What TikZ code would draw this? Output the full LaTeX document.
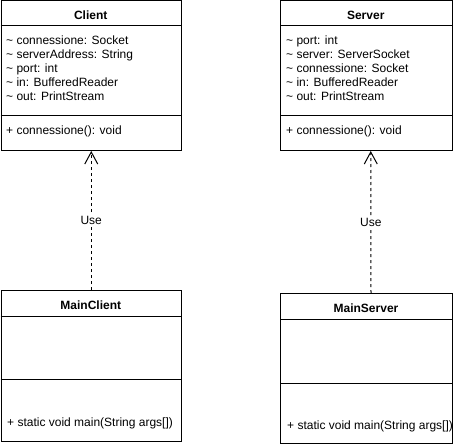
\documentclass[tikz,border=0pt]{standalone}
\usepackage{fontspec}
\setmainfont{Liberation Sans}
\usetikzlibrary{arrows.meta}

\begin{document}
\begin{tikzpicture}[x=1pt,y=-1pt,
	classbox/.style={
		rectangle,
		draw,
		line width=1pt,
		inner sep=0pt,
		anchor=north west},
	classtitle/.style={
		inner sep=0pt,
		font=\fontsize{12}{14}\selectfont\bfseries},
	members/.style={
		inner sep=0pt,
		anchor=north west,
		align=left,
		font=\fontsize{12}{14}\selectfont},
	method/.style={
		inner sep=0pt,
		anchor=base west,
		font=\fontsize{12}{14}\selectfont},
	divider/.style={
		draw,
		line width=1pt},
	line/.style={
		draw,
		line width=1pt,
		dash pattern=on 3pt off 3pt,
		-{Straight Barb[length=12pt,width=13pt]}},
	uselabel/.style={
		fill=white,
		inner sep=1.5pt,
		font=\fontsize{12}{14}\selectfont}]

    \useasboundingbox (0,0) rectangle (461,444);

    % Client
    \node [classbox, minimum width=180.5pt, minimum height=149.5pt] (client) at (0.5,0.5) {};
    \node [classtitle] (clienttitle) at (90.75,15) {Client};
    \draw [divider] (0.5,26) -- (181,26);
    \node [members] (clientattr) at (6,35.2) {\~{} connessione: Socket\\\~{} serverAddress: String\\\~{} port: int\\\~{} in: BufferedReader\\\~{} out: PrintStream};
    \draw [divider] (0.5,116) -- (181,116);
    \node [method] (clientop) at (6,135) {+ connessione(): void};

    % Server
    \node [classbox, minimum width=171.5pt, minimum height=149.5pt] (server) at (280,0.5) {};
    \node [classtitle] (servertitle) at (365.75,15) {Server};
    \draw [divider] (280,26) -- (451.5,26);
    \node [members] (serverattr) at (286,35.2) {\~{} port: int\\\~{} server: ServerSocket\\\~{} connessione: Socket\\\~{} in: BufferedReader\\\~{} out: PrintStream};
    \draw [divider] (280,116) -- (451.5,116);
    \node [method] (serverop) at (286,135) {+ connessione(): void};

    % MainClient
    \node [classbox, minimum width=180.5pt, minimum height=151pt] (mainclient) at (0.5,290) {};
    \node [classtitle] (mainclienttitle) at (90.75,305) {MainClient};
    \draw [divider] (0.5,316) -- (181,316);
    \draw [divider] (0.5,379) -- (181,379);
    \node [method] (mainclientop) at (7,426.5) {+ static void main(String args[])};

    % MainServer
    \node [classbox, minimum width=172pt, minimum height=150pt] (mainserver) at (280,293) {};
    \node [classtitle] (mainservertitle) at (366,308) {MainServer};
    \draw [divider] (280,319) -- (452,319);
    \draw [divider] (280,383) -- (452,383);
    \node [method] (mainserverop) at (287,429) {+ static void main(String args[])};

    % Draw edges
    \path [line] (mainclient) -- node[uselabel] {Use} (client);
    \path [line] ([xshift=4.5pt]mainserver.north) -- node[uselabel] {Use} ([xshift=4.5pt]server.south);
\end{tikzpicture}
\end{document}
